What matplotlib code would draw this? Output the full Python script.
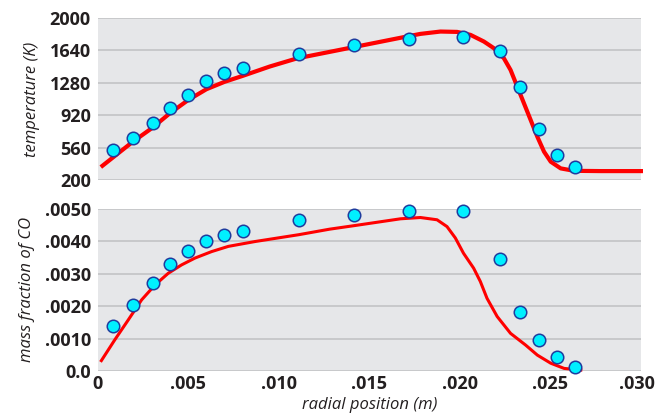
import matplotlib.pyplot as plt
from matplotlib.transforms import ScaledTranslation

# ── Data ──────────────────────────────────────────────────────────────────────
# measured points (same radial positions in both panels)
pts_x = [0.00087, 0.00192, 0.00303, 0.0040, 0.0050, 0.0060, 0.0070, 0.0080,
         0.0111, 0.01417, 0.01718, 0.02016, 0.02223, 0.02334, 0.02435,
         0.02537, 0.02638]
pts_temp = [535, 663, 837, 1004, 1148, 1296, 1386, 1448,
            1600, 1696, 1767, 1785, 1630, 1233, 763, 481, 348]
pts_co = [0.00140, 0.00203, 0.00270, 0.00330, 0.00371, 0.00400, 0.00418,
          0.00431, 0.00466, 0.00481, 0.00492, 0.00492, 0.00345, 0.00183,
          0.00096, 0.00044, 0.00013]

# model curves
temp_x = [0.00026, 0.0019, 0.003, 0.004, 0.005, 0.006, 0.007, 0.008, 0.0095,
          0.011, 0.0125, 0.014, 0.0155, 0.017, 0.01782, 0.01893, 0.01985,
          0.02059, 0.02133, 0.02188, 0.02243, 0.0228, 0.02317, 0.02354,
          0.02391, 0.02428, 0.02465, 0.02502, 0.02557, 0.02631, 0.02779,
          0.030]
temp_y = [359, 620, 778, 944, 1089, 1208, 1290, 1356, 1460,
          1550, 1610, 1670, 1730, 1790, 1822, 1848, 1844,
          1811, 1737, 1663, 1552, 1422, 1237, 1052,
          867, 681, 515, 404, 330, 303, 300,
          300]

co_x = [0.0002, 0.00094, 0.00168, 0.00242, 0.00316, 0.00389, 0.00463,
        0.00537, 0.00629, 0.00721, 0.00869, 0.0111, 0.0128, 0.01417, 0.01672,
        0.01782, 0.01874, 0.01929, 0.01975, 0.0202, 0.02076, 0.02113, 0.0215,
        0.02206, 0.0228, 0.02363, 0.02428, 0.02502, 0.02576, 0.02668]
co_y = [0.00032, 0.00096, 0.00157, 0.00219, 0.00265, 0.00301, 0.00327,
        0.00348, 0.00368, 0.00384, 0.00399, 0.00420, 0.00437, 0.00448,
        0.00469, 0.00473, 0.00466, 0.00445, 0.00410, 0.00363, 0.00317,
        0.00276, 0.00224, 0.00168, 0.00116, 0.00080, 0.00049, 0.00024,
        0.00008, 0.00003]

temp_ticks = [200, 560, 920, 1280, 1640, 2000]
co_ticks = [0.0, 0.001, 0.002, 0.003, 0.004, 0.005]
co_ticklabels = ["0.0", ".0010", ".0020", ".0030", ".0040", ".0050"]
x_ticks = [0, 0.005, 0.010, 0.015, 0.020, 0.025, 0.030]
x_ticklabels = ["0", ".005", ".010", ".015", ".020", ".025", ".030"]

# ── Style ─────────────────────────────────────────────────────────────────────
BG_AX = "#e6e7e9"
GRID = "#c3c4c6"
RED = "#ff0000"
CYAN = "#00f0ff"
NAVY = "#1f3c9e"
TXT = "#231f20"

plt.rcParams["font.family"] = ["Open Sans", "DejaVu Sans"]

fig = plt.figure(figsize=(6.56, 4.15), dpi=100, facecolor="white")
ax1 = fig.add_axes([0.149, 0.566, 0.828, 0.391])
ax2 = fig.add_axes([0.149, 0.106, 0.828, 0.391])

for ax in (ax1, ax2):
    ax.set_facecolor(BG_AX)
    for s in ax.spines.values():
        s.set_visible(False)
    ax.grid(axis="y", color=GRID, linewidth=1.2, zorder=0)
    ax.set_axisbelow(True)
    ax.tick_params(length=0, labelsize=13, labelcolor=TXT, pad=5)
    ax.set_xlim(0, 0.030)
    ax.set_xticks(x_ticks)

# top: temperature
ax1.plot(temp_x, temp_y, color=RED, linewidth=3, zorder=2, clip_on=False,
         solid_joinstyle="round")
ax1.plot(pts_x, pts_temp, "o", color=CYAN, markeredgecolor=NAVY,
         markeredgewidth=1.1, markersize=9, zorder=3, clip_on=False)
ax1.set_ylim(200, 2000)
ax1.set_yticks(temp_ticks)
ax1.set_yticklabels([str(t) for t in temp_ticks], fontweight="bold")
ax1.set_xticklabels([])
ax1.set_ylabel("temperature (K)", fontsize=12, style="italic",
               color=TXT, labelpad=7)

# bottom: CO mass fraction
ax2.plot(co_x, co_y, color=RED, linewidth=2.2, zorder=2, clip_on=False,
         solid_joinstyle="round")
ax2.plot(pts_x, pts_co, "o", color=CYAN, markeredgecolor=NAVY,
         markeredgewidth=1.1, markersize=9, zorder=3, clip_on=False)
ax2.set_ylim(0, 0.005)
ax2.set_yticks(co_ticks)
ax2.set_yticklabels(co_ticklabels, fontweight="bold")
ax2.set_xticklabels(x_ticklabels, fontweight="bold")
ax2.tick_params(axis="x", pad=3)
ax2.set_ylabel("mass fraction of CO", fontsize=12, style="italic",
               color=TXT, labelpad=7)
ax2.set_xlabel("radial position (m)", fontsize=12, style="italic",
               color=TXT, labelpad=3)

# keep the last x label inside the figure
last = ax2.get_xticklabels()[-1]
last.set_transform(last.get_transform() +
                   ScaledTranslation(-0.035, 0, fig.dpi_scale_trans))

fig.savefig("out.png", dpi=100, facecolor="white")
